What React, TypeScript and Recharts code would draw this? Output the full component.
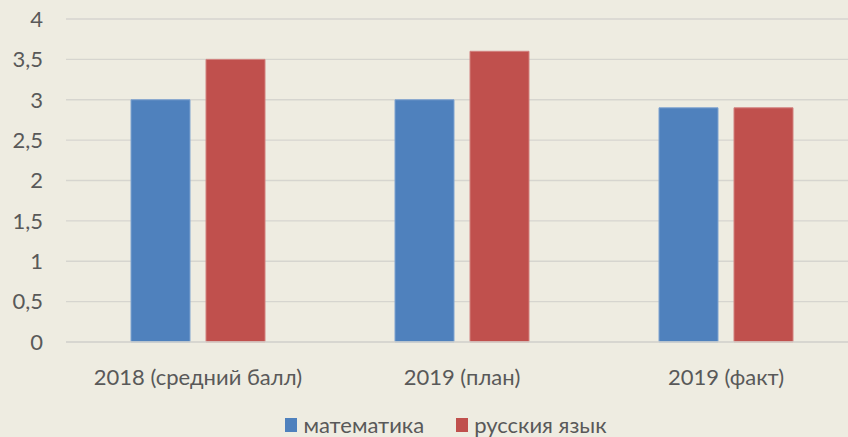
import React from "react";
import { BarChart, Bar, XAxis, YAxis, CartesianGrid, Legend } from "recharts";

const categories = ["2018 (средний балл)", "2019 (план)", "2019 (факт)"];
const mathValues = [3, 3, 2.9];
const russianValues = [3.5, 3.6, 2.9];
const yTicks = [0, 0.5, 1, 1.5, 2, 2.5, 3, 3.5, 4];
const seriesNames = ["математика", "русския язык"];

const data = categories.map((c, i) => ({
  name: c,
  math: mathValues[i],
  rus: russianValues[i],
}));

const FONT = "Lato, 'Open Sans', sans-serif";
const TEXT = "#595959";
const FS = 22;

const LegendContent = () => (
  <div
    style={{
      display: "flex",
      justifyContent: "center",
      alignItems: "center",
      fontFamily: FONT,
      fontSize: FS,
      color: TEXT,
      lineHeight: "24px",
      height: 24,
      paddingLeft: 34,
    }}
  >
    <span style={{ display: "inline-block", width: 12, height: 14, background: "#4F81BD", marginRight: 6 }} />
    <span style={{ marginRight: 32 }}>{seriesNames[0]}</span>
    <span style={{ display: "inline-block", width: 12, height: 14, background: "#C0504D", marginRight: 6 }} />
    <span>{seriesNames[1]}</span>
  </div>
);

export default function App() {
  return (
    <div
      style={{
        position: "absolute",
        left: 0,
        top: 0,
        width: 848,
        height: 437,
        overflow: "hidden",
        background: "#EEECE1",
      }}
    >
      <BarChart
        width={858}
        height={437}
        data={data}
        margin={{ top: 19, right: 0, bottom: 0, left: 0 }}
        barGap={16}
        barSize={59}
      >
        <CartesianGrid vertical={false} stroke="#D6D5CF" strokeWidth={1.3} />
        <XAxis
          dataKey="name"
          axisLine={{ stroke: "#D6D5CF", strokeWidth: 1.3 }}
          tickLine={false}
          height={71}
          tickMargin={21}
          tick={{ fill: TEXT, fontSize: FS, fontFamily: FONT }}
          interval={0}
        />
        <YAxis
          domain={[0, 4]}
          ticks={yTicks}
          width={66}
          axisLine={false}
          tickLine={false}
          tickSize={0}
          tickMargin={23}
          tickFormatter={(v: number) => String(v).replace(".", ",")}
          tick={{ fill: TEXT, fontSize: FS, fontFamily: FONT }}
        />
        <Legend verticalAlign="bottom" content={<LegendContent />} wrapperStyle={{ bottom: 0 }} />
        <Bar dataKey="math" name={seriesNames[0]} fill="#4F81BD" stroke="#7FA3D0" strokeWidth={1} isAnimationActive={false} />
        <Bar dataKey="rus" name={seriesNames[1]} fill="#C0504D" stroke="#D2817F" strokeWidth={1} isAnimationActive={false} />
      </BarChart>
    </div>
  );
}
